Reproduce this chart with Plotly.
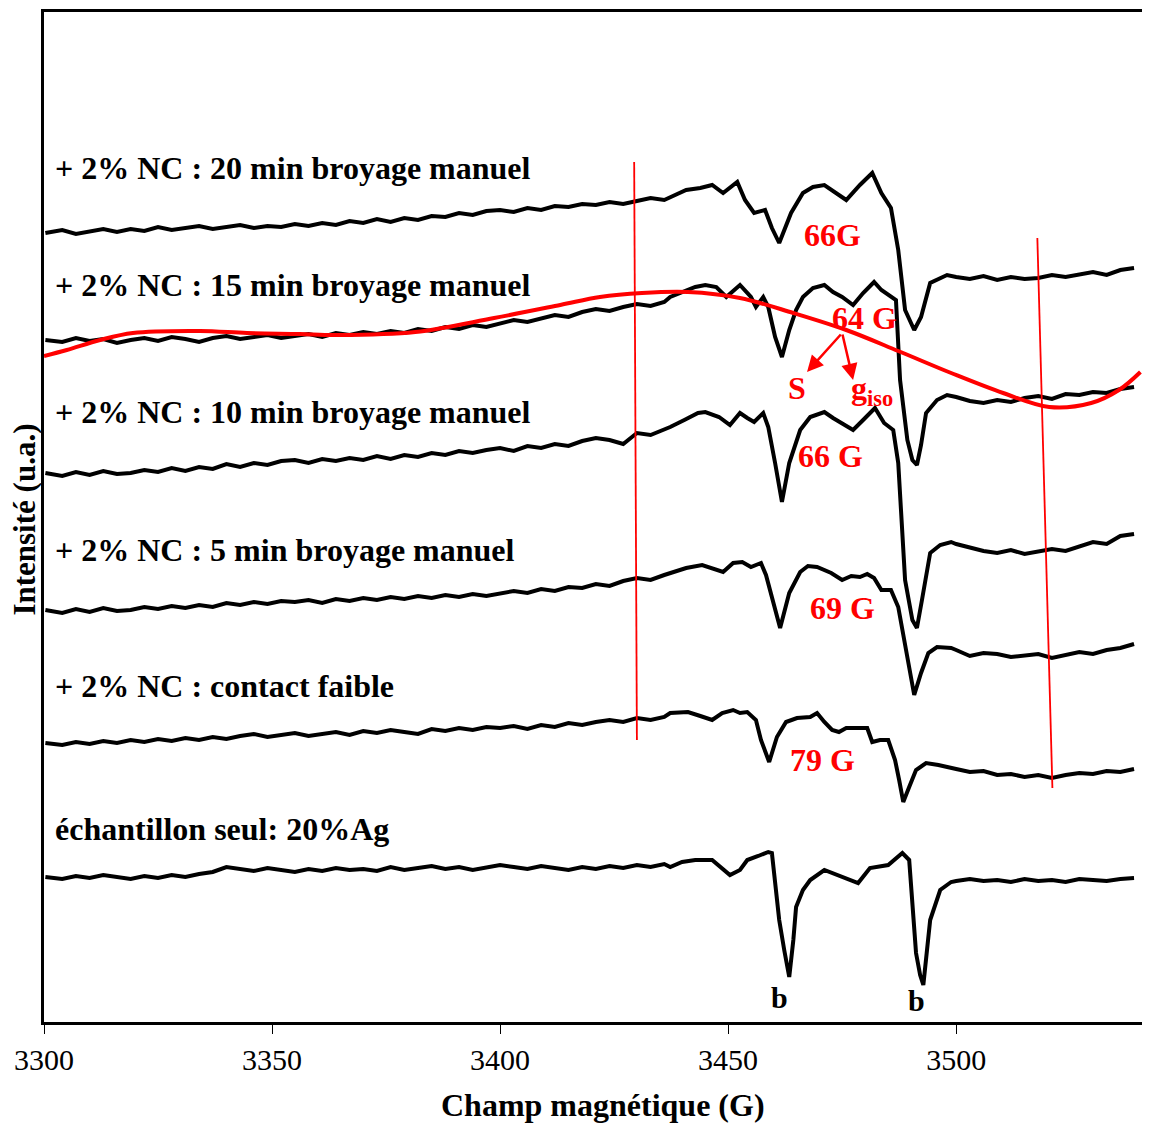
import plotly.graph_objects as go

# Field positions (G) shared by all spectra on the flat parts
LEFT_G = [3300.3, 3304, 3307, 3310, 3313, 3316, 3319, 3322, 3325, 3328,
          3331, 3334, 3337, 3340, 3343, 3346, 3349, 3352, 3355, 3358,
          3361, 3364, 3367, 3370, 3373, 3376, 3379, 3382, 3385, 3388,
          3391, 3394, 3397, 3400, 3403, 3406, 3409, 3412, 3415, 3418,
          3421, 3424, 3427, 3430, 3433, 3436]
RIGHT_G = [3500, 3503, 3506, 3509, 3512, 3515, 3518, 3521, 3524, 3527,
           3530, 3533, 3536, 3539]

# + 2% NC : 20 min broyage manuel
T20_LEFT = [7.89, 7.92, 7.88, 7.91, 7.93, 7.90, 7.93, 7.91, 7.95, 7.92,
            7.94, 7.96, 7.93, 7.95, 7.97, 7.94, 7.96, 7.95, 7.98, 7.96,
            7.99, 7.97, 8.01, 7.99, 8.03, 8.00, 8.04, 8.02, 8.06, 8.05,
            8.09, 8.07, 8.11, 8.12, 8.10, 8.14, 8.12, 8.16, 8.15, 8.18,
            8.17, 8.20, 8.18, 8.21, 8.24, 8.22]
T20_MID_G = [3440.8, 3443.9, 3446.5, 3448.9, 3452.0, 3453.7, 3455.7, 3458.1, 3459.6, 3461.2,
             3462.5, 3463.8, 3466.4, 3468.6, 3471.1, 3473.5, 3475.9, 3478.9, 3481.6, 3483.6,
             3485.7, 3487.3, 3488.8, 3490.8, 3492.3, 3494.3, 3498.0]
T20_MID = [8.32, 8.34, 8.37, 8.29, 8.40, 8.22, 8.09, 8.12, 7.94, 7.79,
           7.94, 8.09, 8.29, 8.35, 8.37, 8.30, 8.22, 8.37, 8.49, 8.29,
           8.14, 7.72, 7.12, 6.92, 7.05, 7.39, 7.47]
T20_RIGHT = [7.45, 7.43, 7.46, 7.42, 7.45, 7.43, 7.44, 7.47, 7.45, 7.48,
             7.50, 7.47, 7.52, 7.54]

# + 2% NC : 15 min broyage manuel
T15_LEFT = [6.82, 6.80, 6.84, 6.81, 6.83, 6.79, 6.82, 6.84, 6.81, 6.85,
            6.83, 6.80, 6.84, 6.86, 6.83, 6.85, 6.87, 6.84, 6.86, 6.88,
            6.85, 6.89, 6.87, 6.90, 6.88, 6.91, 6.89, 6.93, 6.91, 6.95,
            6.93, 6.97, 6.95, 6.99, 7.02, 7.00, 7.04, 7.07, 7.05, 7.10,
            7.13, 7.11, 7.15, 7.18, 7.16, 7.20]
T15_MID_G = [3437.3, 3442.8, 3445.0, 3447.4, 3449.6, 3452.6, 3455.0, 3456.1, 3457.7, 3458.8,
             3460.3, 3461.8, 3463.4, 3464.9, 3466.4, 3468.6, 3471.1, 3473.0, 3475.0, 3477.4,
             3479.6, 3482.0, 3483.6, 3485.7, 3486.8, 3487.7, 3489.3, 3490.4, 3491.4, 3492.3,
             3493.4, 3495.8, 3498.0]
T15_MID = [7.25, 7.35, 7.37, 7.35, 7.25, 7.37, 7.25, 7.15, 7.25, 7.15,
           6.85, 6.65, 6.92, 7.12, 7.25, 7.34, 7.37, 7.30, 7.25, 7.17,
           7.29, 7.40, 7.32, 7.25, 7.22, 6.42, 5.82, 5.62, 5.57, 5.77,
           6.09, 6.22, 6.27]
T15_RIGHT = [6.25, 6.21, 6.19, 6.22, 6.20, 6.24, 6.26, 6.23, 6.28, 6.27,
             6.30, 6.29, 6.33, 6.35]

# + 2% NC : 10 min broyage manuel
T10_LEFT = [5.49, 5.46, 5.50, 5.47, 5.51, 5.48, 5.49, 5.52, 5.50, 5.54,
            5.51, 5.55, 5.53, 5.58, 5.55, 5.59, 5.57, 5.61, 5.62, 5.59,
            5.63, 5.61, 5.64, 5.62, 5.66, 5.63, 5.67, 5.65, 5.69, 5.67,
            5.71, 5.69, 5.72, 5.74, 5.71, 5.76, 5.74, 5.78, 5.76, 5.81,
            5.84, 5.82, 5.78, 5.89, 5.87, 5.92]
T10_MID_G = [3437.3, 3440.4, 3443.4, 3445.0, 3446.5, 3448.0, 3450.4, 3452.6, 3454.2, 3455.7,
             3457.7, 3458.8, 3460.3, 3461.8, 3463.4, 3465.8, 3468.0, 3471.1, 3473.0, 3475.0,
             3477.4, 3479.6, 3482.2, 3484.2, 3486.2, 3487.3, 3488.8, 3490.4, 3491.4, 3492.5,
             3494.3, 3496.5, 3498.9]
T10_MID = [5.95, 6.02, 6.09, 6.10, 6.08, 6.05, 5.97, 6.09, 6.04, 6.00,
           6.09, 5.95, 5.59, 5.20, 5.59, 5.92, 6.05, 6.10, 6.04, 5.99,
           5.92, 6.02, 6.14, 5.99, 5.92, 5.59, 4.42, 4.02, 3.94, 4.22,
           4.69, 4.77, 4.80]
T10_RIGHT = [4.78, 4.74, 4.71, 4.69, 4.72, 4.68, 4.70, 4.73, 4.71, 4.76,
             4.80, 4.78, 4.86, 4.88]

# + 2% NC : 5 min broyage manuel
T05_LEFT = [4.12, 4.09, 4.13, 4.10, 4.14, 4.11, 4.12, 4.15, 4.13, 4.16,
            4.14, 4.17, 4.15, 4.19, 4.17, 4.20, 4.18, 4.21, 4.20, 4.22,
            4.19, 4.23, 4.21, 4.24, 4.22, 4.25, 4.23, 4.26, 4.24, 4.27,
            4.25, 4.28, 4.26, 4.29, 4.31, 4.29, 4.33, 4.31, 4.35, 4.34,
            4.38, 4.36, 4.41, 4.44, 4.42, 4.47]
T05_MID_G = [3437.3, 3440.8, 3444.3, 3446.5, 3448.9, 3451.1, 3453.1, 3455.0, 3457.2, 3458.3,
             3459.6, 3461.4, 3463.4, 3465.8, 3467.5, 3469.5, 3472.6, 3475.0, 3477.0, 3478.9,
             3480.5, 3482.0, 3483.6, 3485.7, 3487.3, 3488.8, 3489.7, 3490.8, 3492.3, 3493.9,
             3495.8, 3498.9]
T05_MID = [4.49, 4.54, 4.57, 4.54, 4.50, 4.59, 4.60, 4.55, 4.59, 4.47,
           4.25, 3.94, 4.29, 4.50, 4.56, 4.55, 4.49, 4.42, 4.46, 4.45,
           4.48, 4.44, 4.32, 4.32, 4.15, 3.75, 3.55, 3.27, 3.49, 3.69,
           3.75, 3.74]
T05_RIGHT = [3.72, 3.66, 3.69, 3.68, 3.65, 3.66, 3.68, 3.64, 3.67, 3.70,
             3.68, 3.72, 3.74, 3.78]

# + 2% NC : contact faible
TCF_LEFT = [2.79, 2.77, 2.80, 2.78, 2.81, 2.79, 2.82, 2.80, 2.83, 2.81,
            2.84, 2.82, 2.85, 2.83, 2.86, 2.88, 2.85, 2.87, 2.89, 2.86,
            2.88, 2.90, 2.87, 2.91, 2.89, 2.92, 2.90, 2.88, 2.93, 2.91,
            2.94, 2.92, 2.95, 2.94, 2.96, 2.93, 2.97, 2.95, 2.99, 2.97,
            3.00, 3.02, 3.00, 3.04, 3.02, 3.05]
TCF_MID_G = [3437.3, 3441.2, 3443.9, 3446.5, 3448.7, 3451.1, 3452.6, 3454.2, 3456.1, 3457.2,
             3459.0, 3460.7, 3462.7, 3465.1, 3468.0, 3469.5, 3471.1, 3472.8, 3474.3, 3475.9,
             3477.4, 3480.5, 3481.6, 3483.3, 3485.1, 3486.6, 3487.5, 3488.4, 3489.7, 3491.2,
             3493.4, 3496.1]
TCF_MID = [3.09, 3.10, 3.06, 3.02, 3.09, 3.12, 3.09, 3.10, 3.02, 2.82,
           2.60, 2.85, 3.00, 3.04, 3.05, 3.09, 3.00, 2.92, 2.90, 2.94,
           2.94, 2.94, 2.80, 2.82, 2.82, 2.62, 2.42, 2.20, 2.35, 2.52,
           2.59, 2.57]
TCF_RIGHT = [2.53, 2.50, 2.51, 2.47, 2.48, 2.45, 2.47, 2.44, 2.47, 2.49,
             2.48, 2.51, 2.50, 2.53]

# échantillon seul: 20%Ag
TAG_LEFT = [1.45, 1.43, 1.46, 1.44, 1.47, 1.45, 1.43, 1.46, 1.44, 1.47,
            1.45, 1.48, 1.50, 1.55, 1.53, 1.51, 1.54, 1.52, 1.50, 1.53,
            1.51, 1.54, 1.52, 1.53, 1.51, 1.55, 1.52, 1.54, 1.56, 1.53,
            1.55, 1.52, 1.54, 1.57, 1.55, 1.53, 1.56, 1.54, 1.52, 1.55,
            1.53, 1.56, 1.54, 1.57, 1.55, 1.58]
TAG_MID_G = [3437.3, 3439.9, 3442.8, 3446.5, 3448.2, 3450.4, 3452.6, 3454.2, 3456.6, 3458.8,
             3459.6, 3461.2, 3462.3, 3463.4, 3464.3, 3464.9, 3466.4, 3468.0, 3471.1, 3473.5,
             3475.9, 3478.5, 3481.1, 3485.1, 3488.2, 3489.7, 3491.2, 3492.1, 3492.8, 3493.6,
             3494.3, 3496.5, 3498.9]
TAG_MID = [1.55, 1.60, 1.62, 1.62, 1.56, 1.47, 1.52, 1.62, 1.66, 1.70,
           1.69, 1.02, 0.72, 0.45, 0.82, 1.15, 1.32, 1.42, 1.52, 1.48,
           1.44, 1.39, 1.54, 1.57, 1.69, 1.62, 0.69, 0.47, 0.37, 0.72,
           1.02, 1.32, 1.40]
TAG_RIGHT = [1.41, 1.43, 1.41, 1.42, 1.40, 1.43, 1.41, 1.42, 1.40, 1.43,
             1.42, 1.41, 1.43, 1.44]

# hand-drawn red guide curve
CURVE_G = [3300.0, 3305.0, 3312.3, 3319.5, 3334.2, 3344.5, 3356.1, 3364.0, 3381.4, 3398.7,
           3413.2, 3421.9, 3431.1, 3441.2, 3452.6, 3464.3, 3475.9, 3487.3, 3498.9, 3510.3,
           3520.4, 3529.6, 3535.7, 3540.4]
CURVE_I = [6.66, 6.72, 6.82, 6.89, 6.91, 6.89, 6.88, 6.87, 6.90, 7.04,
           7.17, 7.25, 7.29, 7.30, 7.24, 7.09, 6.92, 6.71, 6.49, 6.29,
           6.15, 6.19, 6.32, 6.50]

# thin red marker lines (start G, start I, end G, end I)
MARK_LINES = [(3429.4, 8.60, 3430.0, 2.82), (3517.8, 7.84, 3521.1, 2.34)]

SPECTRA_LABELS = ["+ 2% NC : 20 min broyage manuel", "+ 2% NC : 15 min broyage manuel",
                  "+ 2% NC : 10 min broyage manuel", "+ 2% NC : 5 min broyage manuel",
                  "+ 2% NC : contact faible", "échantillon seul: 20%Ag"]
LABEL_I = [8.54, 7.37, 6.10, 4.72, 3.36, 1.93]

RED_TEXT = ["66G", "64 G", "S", "g<sub>iso</sub>", "66 G", "69 G", "79 G"]
RED_TEXT_G = [3472.8, 3480.0, 3465.1, 3481.6, 3472.4, 3475.0, 3470.8]
RED_TEXT_I = [7.87, 7.04, 6.34, 6.32, 5.66, 4.14, 2.62]

B_G = [3461.2, 3491.4]
B_I = [0.25, 0.22]

ARROW_FROM = (3475.0, 6.89)
ARROW_TO = [(3467.3, 6.50), (3477.4, 6.42)]

FONT = "Liberation Serif, Times New Roman, serif"

spectra = [
    (T20_LEFT, T20_MID_G, T20_MID, T20_RIGHT),
    (T15_LEFT, T15_MID_G, T15_MID, T15_RIGHT),
    (T10_LEFT, T10_MID_G, T10_MID, T10_RIGHT),
    (T05_LEFT, T05_MID_G, T05_MID, T05_RIGHT),
    (TCF_LEFT, TCF_MID_G, TCF_MID, TCF_RIGHT),
    (TAG_LEFT, TAG_MID_G, TAG_MID, TAG_RIGHT),
]

fig = go.Figure()

for left, mid_g, mid, right in spectra:
    fig.add_trace(go.Scatter(
        x=LEFT_G + mid_g + RIGHT_G,
        y=left + mid + right,
        mode="lines",
        line=dict(color="black", width=4),
        showlegend=False,
        hoverinfo="skip",
    ))

for g0, i0, g1, i1 in MARK_LINES:
    fig.add_trace(go.Scatter(
        x=[g0, g1], y=[i0, i1], mode="lines",
        line=dict(color="#ff0000", width=1.8),
        showlegend=False, hoverinfo="skip",
    ))

fig.add_trace(go.Scatter(
    x=CURVE_G, y=CURVE_I, mode="lines",
    line=dict(color="#ff0000", width=4, shape="spline", smoothing=1.0),
    showlegend=False, hoverinfo="skip",
))

annotations = []
for txt, yi in zip(SPECTRA_LABELS, LABEL_I):
    annotations.append(dict(
        x=3302.0, y=yi, xref="x", yref="y", text=txt, showarrow=False,
        xanchor="left", yanchor="middle",
        font=dict(family=FONT, size=32, color="black", weight="bold"),
    ))

for txt, g, yi in zip(RED_TEXT, RED_TEXT_G, RED_TEXT_I):
    annotations.append(dict(
        x=g, y=yi, xref="x", yref="y", text=txt, showarrow=False,
        xanchor="center", yanchor="middle",
        font=dict(family=FONT, size=32, color="#ff0000", weight="bold"),
    ))

for g, yi in zip(B_G, B_I):
    annotations.append(dict(
        x=g, y=yi, xref="x", yref="y", text="b", showarrow=False,
        xanchor="center", yanchor="middle",
        font=dict(family=FONT, size=30, color="black", weight="bold"),
    ))

for g, yi in ARROW_TO:
    annotations.append(dict(
        x=g, y=yi, xref="x", yref="y", ax=ARROW_FROM[0], ay=ARROW_FROM[1],
        axref="x", ayref="y", text="", showarrow=True,
        arrowhead=2, arrowsize=1.3, arrowwidth=2.5, arrowcolor="#ff0000",
    ))

annotations.append(dict(
    x=0.505, y=-0.082, xref="paper", yref="paper", text="Champ magnétique (G)",
    showarrow=False, xanchor="center", yanchor="middle",
    font=dict(family=FONT, size=32, color="black", weight="bold"),
))
annotations.append(dict(
    x=-0.0185, y=0.497, xref="paper", yref="paper", text="Intensité (u.a.)",
    showarrow=False, xanchor="center", yanchor="middle", textangle=-90,
    font=dict(family=FONT, size=31, color="black", weight="bold"),
))

# the page body adds an 8 px margin, so the figure is 8 px smaller each way
fig.update_layout(
    width=1142, height=1115,
    margin=dict(l=36, r=0, t=4, b=101),
    paper_bgcolor="white", plot_bgcolor="white",
    annotations=annotations,
    xaxis=dict(
        range=[3300, 3542.5], tickmode="array", tickvals=[3300, 3350, 3400, 3450, 3500],
        ticks="outside", ticklen=9, tickwidth=1, tickcolor="black",
        showline=True, linecolor="black", linewidth=3, mirror=True,
        showgrid=False, zeroline=False,
        tickfont=dict(family=FONT, size=30, color="black"),
    ),
    yaxis=dict(
        range=[0, 10.10], showticklabels=False, ticks="",
        showline=True, linecolor="black", linewidth=3,
        showgrid=False, zeroline=False,
    ),
)

fig.write_html("out.html")
